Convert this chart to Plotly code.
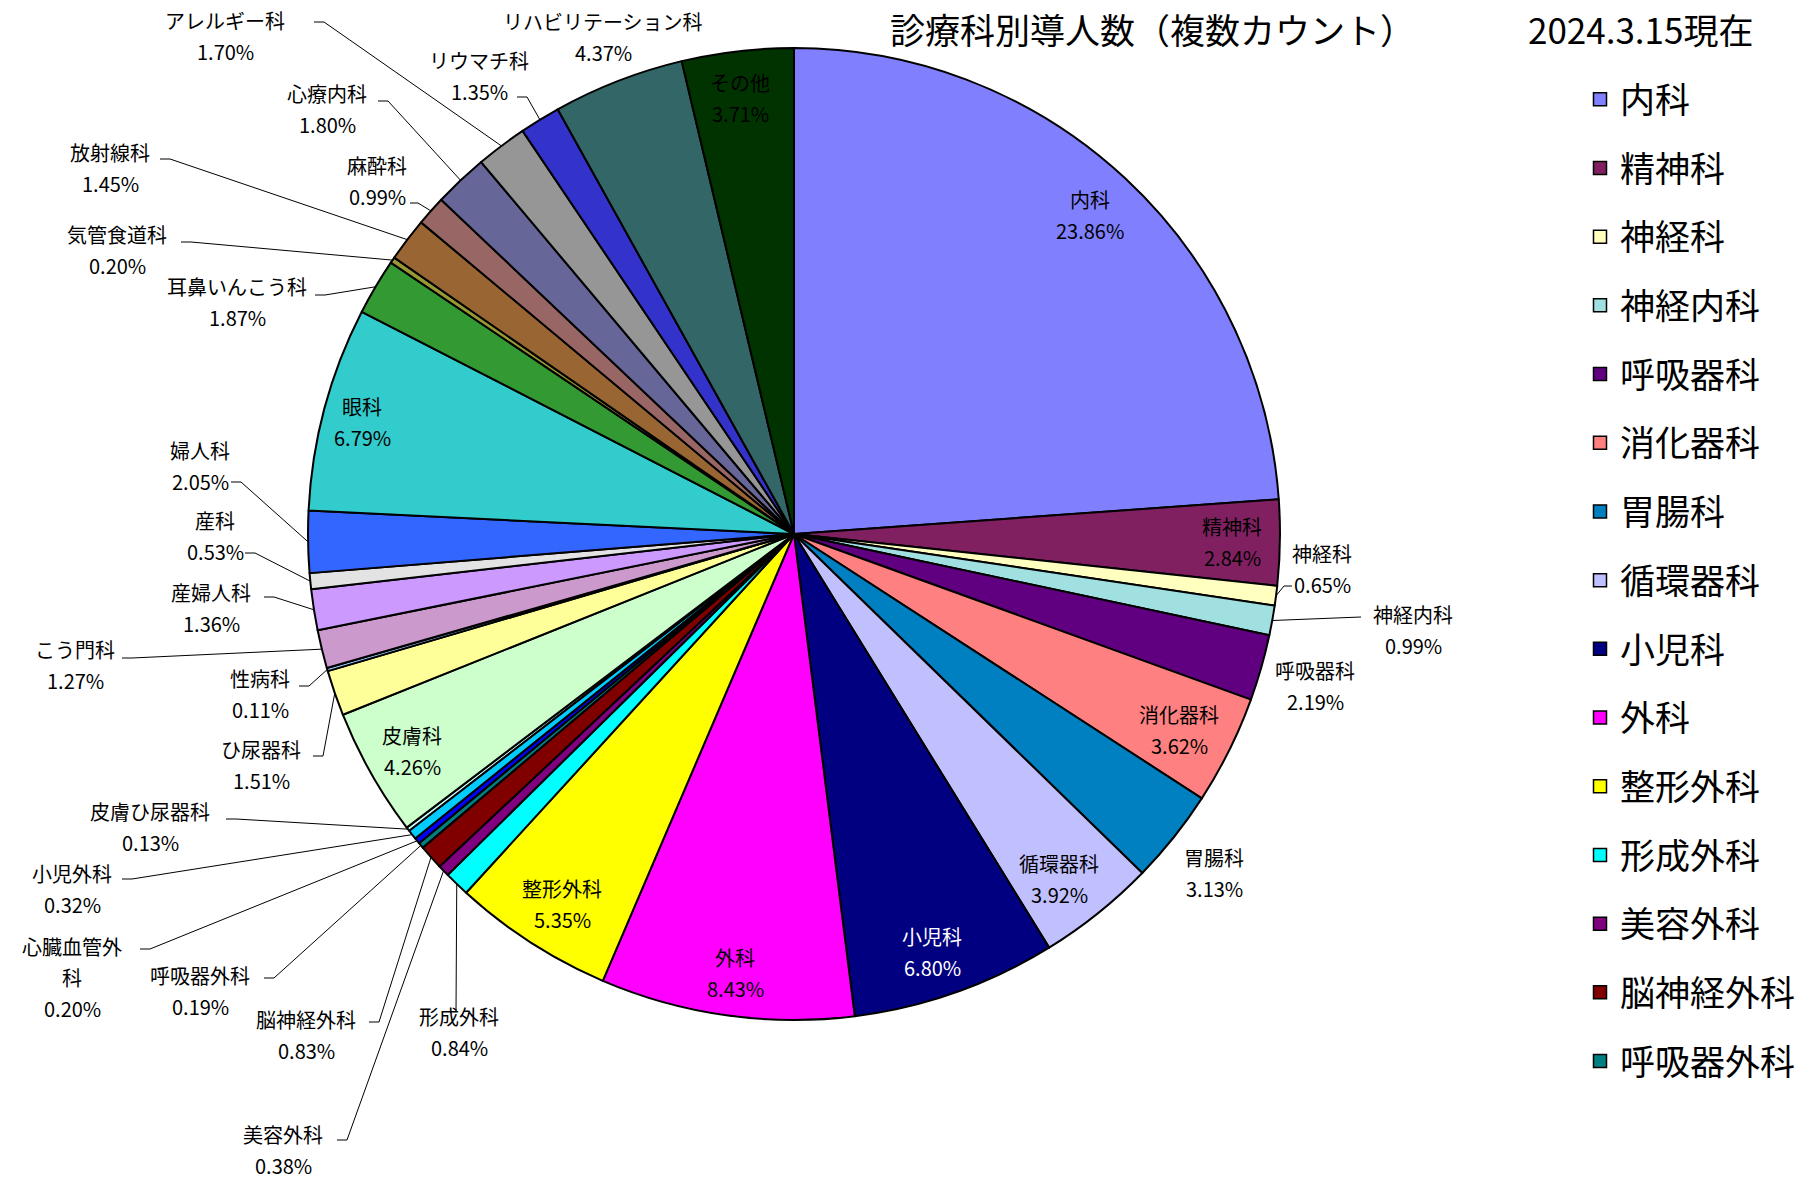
import math
import plotly.graph_objects as go

# ---------------- data ----------------
categories = ["内科", "精神科", "神経科", "神経内科", "呼吸器科", "消化器科", "胃腸科", "循環器科",
              "小児科", "外科", "整形外科", "形成外科", "美容外科", "脳神経外科", "呼吸器外科",
              "心臓血管外科", "小児外科", "皮膚ひ尿器科", "皮膚科", "ひ尿器科", "性病科", "こう門科",
              "産婦人科", "産科", "婦人科", "眼科", "耳鼻いんこう科", "気管食道科", "放射線科",
              "麻酔科", "心療内科", "アレルギー科", "リウマチ科", "リハビリテーション科", "その他"]
shares = [23.86, 2.84, 0.65, 0.99, 2.19, 3.62, 3.13, 3.92,
          6.80, 8.43, 5.35, 0.84, 0.38, 0.83, 0.19,
          0.20, 0.32, 0.13, 4.26, 1.51, 0.11, 1.27,
          1.36, 0.53, 2.05, 6.79, 1.87, 0.20, 1.45,
          0.99, 1.80, 1.70, 1.35, 4.37, 3.71]
legend_count = 15
title_main = "診療科別導人数（複数カウント）"
title_date = "2024.3.15現在"

# ---------------- style ----------------
colors = ["#8080FF", "#802060", "#FFFFC0", "#A0E0E0", "#600080", "#FF8080", "#0080C0", "#C0C0FF",
          "#000080", "#FF00FF", "#FFFF00", "#00FFFF", "#800080", "#800000", "#008080",
          "#0000FF", "#00CCFF", "#CCFFFF", "#CCFFCC", "#FFFF99", "#99CCFF", "#CC99CC",
          "#CC99FF", "#E3E3E3", "#3366FF", "#33CCCC", "#339933", "#999933", "#996633",
          "#996666", "#666699", "#969696", "#3333CC", "#336666", "#003300"]
FONT = "Noto Sans CJK JP"
W, H = 1809, 1179
CX, CY, R = 794, 534, 486          # pie centre / radius in page pixels
LINE_GAP = 31                      # distance between the lines of a data label

# label layout: centre of label block, optional leader (attach x, attach y, stub dx)
label_layout = {
    "内科": (1090, 215, None),
    "精神科": (1232, 542, None),
    "神経科": (1322, 569, (1292, 586, -8)),
    "神経内科": (1413, 630, (1361, 617, 0)),
    "呼吸器科": (1315, 686, None),
    "消化器科": (1179, 730, None),
    "胃腸科": (1214, 873, None),
    "循環器科": (1059, 879, None),
    "小児科": (932, 952, None),
    "外科": (735, 973, None),
    "整形外科": (562, 904, None),
    "形成外科": (459, 1032, (456, 1012, 0)),
    "美容外科": (283, 1150, (337, 1140, 10)),
    "脳神経外科": (306, 1035, (369, 1022, 10)),
    "呼吸器外科": (200, 991, (264, 978, 10)),
    "心臓血管外科": (72, 977, (140, 949, 10)),
    "小児外科": (72, 889, (122, 879, 10)),
    "皮膚ひ尿器科": (150, 827, (226, 819, 10)),
    "皮膚科": (412, 751, None),
    "ひ尿器科": (261, 765, (313, 756, 10)),
    "性病科": (260, 694, (299, 686, 10)),
    "こう門科": (75, 665, (122, 658, 10)),
    "産婦人科": (211, 608, (264, 597, 10)),
    "産科": (215, 536, (245, 553, 10)),
    "婦人科": (200, 466, (231, 482, 10)),
    "眼科": (362, 422, None),
    "耳鼻いんこう科": (237, 302, (315, 295, 10)),
    "気管食道科": (117, 250, (181, 242, 10)),
    "放射線科": (110, 168, (160, 159, 10)),
    "麻酔科": (377, 181, (410, 203, 8)),
    "心療内科": (327, 109, (378, 101, 10)),
    "アレルギー科": (225, 36, (314, 22, 10)),
    "リウマチ科": (479, 76, (517, 97, 10)),
    "リハビリテーション科": (603, 37, None),
    "その他": (740, 98, None),
}
wrapped_names = {"心臓血管外科": ["心臓血管外", "科"]}
white_labels = {"小児科"}

fig = go.Figure()

# pie (clockwise from 12 o'clock, like the original)
fig.add_trace(go.Pie(
    labels=categories, values=shares, sort=False, direction="clockwise", rotation=0,
    marker=dict(colors=colors, line=dict(color="black", width=2)),
    textinfo="none", showlegend=False, hoverinfo="label+percent",
    domain=dict(x=[(CX - R) / W, (CX + R) / W], y=[1 - (CY + R) / H, 1 - (CY - R) / H]),
))

# leader lines: from label to the outer edge of its slice at mid-angle
total = sum(shares)
lx, ly = [], []
cum = 0.0
for name, v in zip(categories, shares):
    mid = (cum + v / 2) / total * 2 * math.pi
    cum += v
    lead = label_layout[name][2]
    if lead is None:
        continue
    ex = CX + R * math.sin(mid)
    ey = CY - R * math.cos(mid)
    ax, ay, stub = lead
    lx += [ax, ax + stub, ex, None]
    ly += [ay, ay, ey, None]
fig.add_trace(go.Scatter(x=lx, y=ly, mode="lines", line=dict(color="black", width=1),
                         showlegend=False, hoverinfo="skip"))

# legend entries (only the first ones fit, as in the original)
for i in range(legend_count):
    fig.add_trace(go.Scatter(
        x=[None], y=[None], mode="markers", name=categories[i], legendgroup=categories[i],
        marker=dict(symbol="square", size=13, color=colors[i], line=dict(color="black", width=1.5)),
    ))

# data labels
annotations = []
for name, v in zip(categories, shares):
    cx, cy, _ = label_layout[name]
    lines = wrapped_names.get(name, [name]) + [f"{v:.2f}%"]
    n = len(lines)
    col = "white" if name in white_labels else "black"
    for k, t in enumerate(lines):
        annotations.append(dict(
            x=cx, y=cy + (k - (n - 1) / 2) * LINE_GAP, xref="x", yref="y", text=t,
            showarrow=False, xanchor="center", yanchor="middle",
            font=dict(family=FONT, size=20, color=col),
        ))

# title
annotations.append(dict(x=1152, y=1, xref="x", yref="y", text=title_main, showarrow=False,
                        xanchor="center", yanchor="top",
                        font=dict(family=FONT, size=35, color="black")))
annotations.append(dict(x=1640, y=1, xref="x", yref="y", text=title_date, showarrow=False,
                        xanchor="center", yanchor="top",
                        font=dict(family=FONT, size=35, color="black")))

fig.update_layout(
    width=W, height=H, margin=dict(l=0, r=0, t=0, b=0),
    paper_bgcolor="white", plot_bgcolor="white",
    xaxis=dict(range=[0, W], visible=False, fixedrange=True),
    yaxis=dict(range=[H, 0], visible=False, fixedrange=True),
    annotations=annotations,
    legend=dict(x=1580 / W, y=1 - 70 / H, xanchor="left", yanchor="top",
                font=dict(family=FONT, size=35, color="black"),
                tracegroupgap=20.2, traceorder="grouped", bgcolor="rgba(0,0,0,0)"),
    font=dict(family=FONT),
)

fig.write_html("out.html")
